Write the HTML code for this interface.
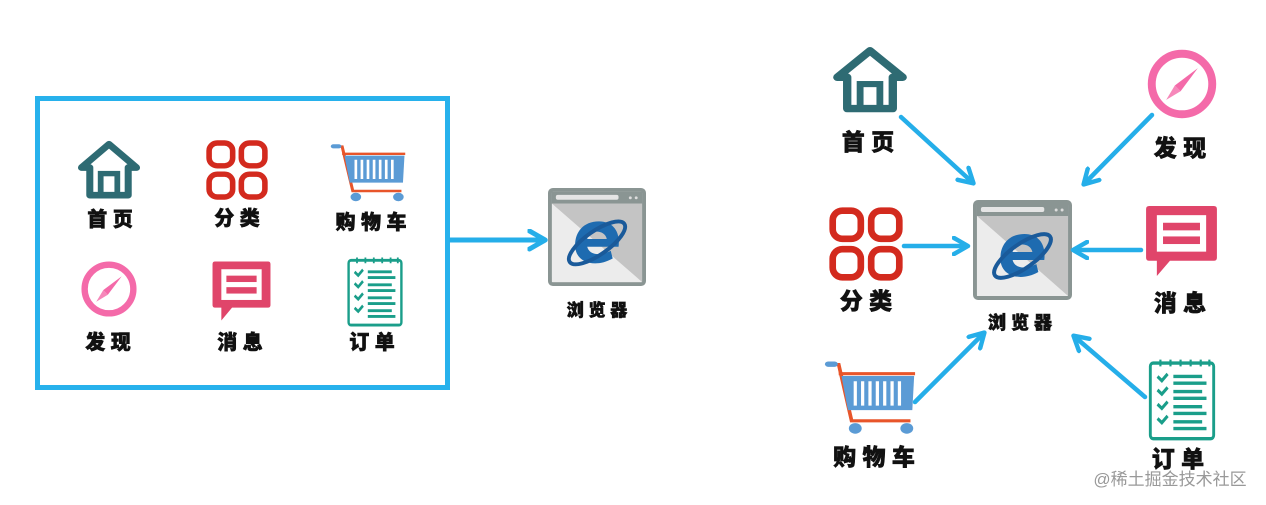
<!DOCTYPE html>
<html><head><meta charset="utf-8"><style>
html,body{margin:0;padding:0;background:#fff;width:1266px;height:505px;overflow:hidden}
svg{display:block}
text{font-family:"Liberation Sans","Noto Sans CJK SC",sans-serif;font-weight:900;fill:#111;text-anchor:middle;stroke:#111;stroke-width:0.6}
</style></head><body>
<svg width="1266" height="505" viewBox="0 0 1266 505" xmlns="http://www.w3.org/2000/svg">
<defs>
<symbol id="house" viewBox="0 0 100 100" preserveAspectRatio="none">
<path d="M7 46 L50 7 L93 46 L80 46 L80 92 L20 92 L20 46 Z" fill="none" stroke="#2e6b73" stroke-width="11" stroke-linejoin="round"/>
<rect x="37" y="56" width="26" height="36" fill="none" stroke="#2e6b73" stroke-width="9"/>
</symbol>
<symbol id="grid" viewBox="0 0 100 100" preserveAspectRatio="none">
<g fill="none" stroke="#d32a1e" stroke-width="9">
<rect x="5" y="5" width="38" height="38" rx="13"/><rect x="57" y="5" width="38" height="38" rx="13"/>
<rect x="5" y="57" width="38" height="38" rx="13"/><rect x="57" y="57" width="38" height="38" rx="13"/></g>
</symbol>
<symbol id="cart" viewBox="0 0 100 100" preserveAspectRatio="none">
<path d="M6 6 L16 6 L30 80 L94 80" fill="none" stroke="#e8552a" stroke-width="4"/>
<path d="M16 18 L99 18" stroke="#e8552a" stroke-width="4"/>
<path d="M19 21 L98 21 L96 66 L26 66 Z" fill="#5b9bd5"/>
<g stroke="#fff" stroke-width="3.5"><path d="M34 28V60M42 28V60M50 28V60M58 28V60M66 28V60M74 28V60M82 28V60"/></g>
<rect x="1" y="2" width="14" height="7" rx="3.5" fill="#5b9bd5"/>
<circle cx="34" cy="90" r="7" fill="#5b9bd5"/><circle cx="90" cy="90" r="7" fill="#5b9bd5"/>
</symbol>
<symbol id="compass" viewBox="0 0 100 100">
<circle cx="50" cy="50" r="42" fill="none" stroke="#f46aa9" stroke-width="11"/>
<path d="M72 28 L40 52 L48 60 Z" fill="#f46aa9"/><path d="M40 52 L28 72 L48 60 Z" fill="#f46aa9" opacity=".8"/>
</symbol>
<symbol id="msg" viewBox="0 0 100 100" preserveAspectRatio="none">
<path d="M8 4 H92 Q96 4 96 8 V72 Q96 76 92 76 H35 L18 96 L18 76 H8 Q4 76 4 72 V8 Q4 4 8 4 Z" fill="#e0456a"/>
<rect x="18" y="16" width="64" height="48" fill="#fff"/>
<rect x="26" y="26" width="48" height="10" fill="#e0456a"/><rect x="26" y="44" width="48" height="10" fill="#e0456a"/>
</symbol>
<symbol id="order" viewBox="0 0 100 100" preserveAspectRatio="none">
<rect x="6" y="6" width="88" height="90" rx="4" fill="#fff" stroke="#1a9e8a" stroke-width="4"/>
<g stroke="#1a9e8a" stroke-width="3"><path d="M20 2V10M34 2V10M48 2V10M62 2V10M76 2V10M88 2V10"/></g>
<g stroke="#1a9e8a" stroke-width="4" fill="none">
<path d="M16 22 L22 27 L30 19M16 38 L22 43 L30 35M16 55 L22 60 L30 52M16 72 L22 77 L30 69"/>
<path d="M38 22H78M38 30H84M38 40H78M38 48H84M38 58H78M38 66H84M38 76H78M38 84H84"/></g>
</symbol>
<symbol id="browser" viewBox="0 0 100 100" preserveAspectRatio="none">
<rect x="2" y="2" width="96" height="96" rx="3" fill="#d9d9d9" stroke="#8a9593" stroke-width="4"/>
<rect x="4" y="4" width="92" height="12" fill="#8a9593"/>
<rect x="8" y="7" width="64" height="5" rx="2" fill="#e5e5e5"/>
<circle cx="84" cy="10" r="1.5" fill="#ddd"/><circle cx="90" cy="10" r="1.5" fill="#ddd"/>
<path d="M4 16 H96 V96 Z" fill="#c4c4c4"/><path d="M4 16 L96 96 H4 Z" fill="#ececec"/>
<path d="M52 34 C34 34 26 48 28 62 C30 76 48 82 66 72 L64 64 C52 70 42 68 40 60 L72 60 C74 44 66 34 52 34 Z M40 52 C42 42 58 42 60 52 Z" fill="#1e6bb0"/>
<ellipse cx="50" cy="56" rx="34" ry="12" transform="rotate(-35 50 56)" fill="none" stroke="#1a5a9a" stroke-width="4"/>
</symbol>
<marker id="ah" viewBox="0 0 10 10" refX="7" refY="5" markerWidth="4.5" markerHeight="4.5" orient="auto">
<path d="M1 1 L8 5 L1 9" fill="none" stroke="#25aee9" stroke-width="2.2" stroke-linecap="round" stroke-linejoin="round"/></marker>
</defs>

<rect x="37.5" y="98.5" width="410" height="289" fill="none" stroke="#27b1ec" stroke-width="5"/>
<use href="#house" x="77" y="140" width="64" height="60"/>
<use href="#grid" x="206" y="140" width="62" height="60"/>
<use href="#cart" x="330" y="143" width="76" height="60"/>
<use href="#compass" x="80" y="260" width="58" height="58"/>
<use href="#msg" x="210" y="259" width="63" height="64"/>
<use href="#order" x="345" y="256" width="60" height="72"/>
<g font-size="20">
<text x="110" y="226">首 页</text><text x="237" y="225">分 类</text><text x="371" y="229">购 物 车</text>
<text x="108" y="349">发 现</text><text x="240" y="349">消 息</text><text x="372" y="349">订 单</text>
</g>
<line x1="449" y1="240" x2="543" y2="240" stroke="#25aee9" stroke-width="5" marker-end="url(#ah)"/>
<use href="#browser" x="548" y="188" width="98" height="98"/>
<text x="597" y="316" font-size="17">浏 览 器</text>

<use href="#house" x="832" y="46" width="76" height="68"/>
<use href="#compass" x="1146" y="48" width="72" height="72"/>
<use href="#grid" x="829" y="207" width="74" height="74"/>
<use href="#browser" x="973" y="200" width="99" height="100"/>
<use href="#msg" x="1143" y="203" width="77" height="76"/>
<use href="#cart" x="824" y="360" width="92" height="76"/>
<use href="#order" x="1146" y="358" width="72" height="84"/>
<g font-size="23">
<text x="868" y="150">首 页</text><text x="1180" y="156">发 现</text><text x="866" y="309">分 类</text>
<text x="1180" y="311">消 息</text><text x="874" y="465">购 物 车</text><text x="1178" y="467">订 单</text>
</g>
<text x="1020" y="329" font-size="18">浏 览 器</text>
<g stroke="#25aee9" stroke-width="4.5" marker-end="url(#ah)" stroke-linecap="round">
<line x1="901" y1="117" x2="972" y2="182"/>
<line x1="1152" y1="115" x2="1085" y2="183"/>
<line x1="904" y1="246" x2="966" y2="246"/>
<line x1="1141" y1="250" x2="1075" y2="250"/>
<line x1="915" y1="402" x2="983" y2="334"/>
<line x1="1145" y1="397" x2="1075" y2="337"/>
</g>
<text x="1170" y="485" font-size="17" style="font-weight:400;fill:#999;stroke:none">@稀土掘金技术社区</text>
</svg>
</body></html>
